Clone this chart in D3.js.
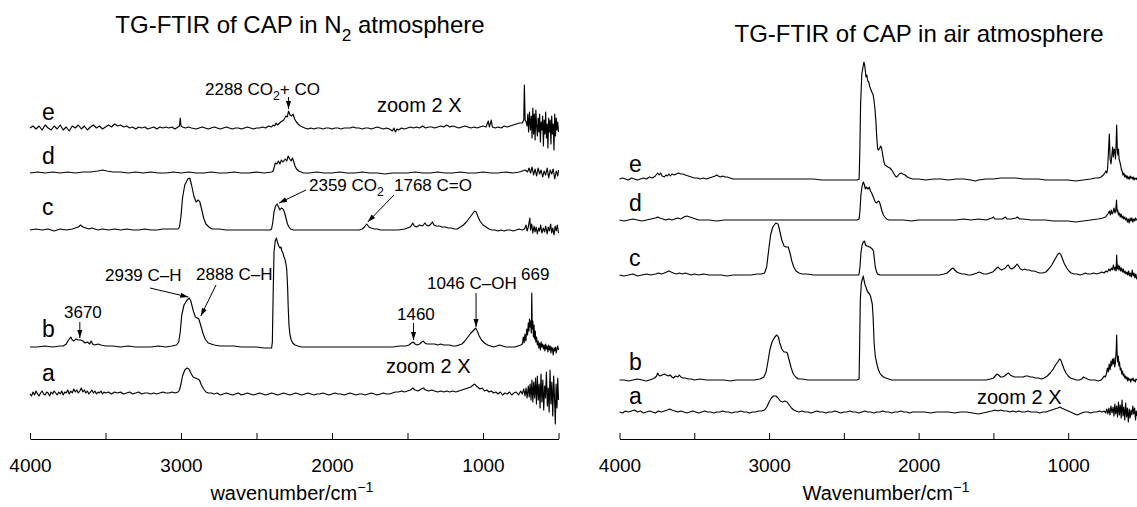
<!DOCTYPE html>
<html>
<head>
<meta charset="utf-8">
<script src="https://cdn.jsdelivr.net/npm/d3@7/dist/d3.min.js"></script>
<style>
  body { margin: 0; background: #fff; }
  svg { display: block; font-family: "Liberation Sans", Arial, Helvetica, sans-serif; }
  .trace { fill: none; stroke: #000; stroke-width: 1.15; stroke-linejoin: round; }
  .axis path, .axis line { stroke: #000; stroke-width: 1; }
  .axis text { fill: #000; }
</style>
</head>
<body>
<div id="chart"></div>
<script>
// ---- data: wavenumber (cm-1) vs absorbance (arbitrary units) ----
const traceLabels = ["a", "b", "c", "d", "e"];
const majorTicks = [4000, 3000, 2000, 1000];
const tickValues = [4000, 3500, 3000, 2500, 2000, 1500, 1000, 500];

// vertical stacking of the spectra (same units as absorbance)
const n2Offsets = [45, 92, 209, 266, 311];
const airOffsets = [27, 59, 164, 219, 260];

// N2 atmosphere
const n2_a = [[4000,0],[3990,-2],[3980,2],[3970,-1],[3960,3],[3950,0],[3940,-2],[3930,1],[3920,3],[3910,0],[3900,-1],[3890,2],[3880,1],[3870,-2],[3860,2],[3850,0],[3840,3],[3830,1],[3820,-1],[3810,2],[3800,0],[3790,3],[3780,-1],[3770,2],[3760,1],[3750,4],[3740,0],[3730,3],[3720,1],[3710,5],[3700,2],[3690,4],[3680,1],[3670,3],[3660,6],[3650,2],[3640,4],[3630,1],[3620,3],[3610,0],[3600,2],[3590,4],[3580,1],[3570,3],[3560,0],[3550,2],[3540,1],[3530,3],[3520,0],[3510,2],[3500,1],[3480,2],[3460,0],[3440,2],[3420,1],[3400,2],[3380,0],[3360,1],[3340,2],[3320,0],[3300,1],[3280,2],[3260,0],[3240,1],[3220,1],[3200,0],[3180,1],[3160,0],[3140,1],[3120,2],[3100,1],[3080,1],[3060,2],[3040,1],[3020,2],[3010,4],[3000,10],[2990,18],[2975,24],[2960,26],[2948,25],[2935,21],[2920,17],[2905,16],[2890,15],[2878,14],[2865,9],[2850,5],[2835,2],[2820,1],[2800,1],[2780,0],[2760,1],[2740,-1],[2720,0],[2700,1],[2680,0],[2660,-1],[2640,0],[2620,1],[2600,-1],[2580,0],[2560,1],[2540,0],[2520,-1],[2500,0],[2480,1],[2460,0],[2440,-1],[2420,0],[2400,1],[2380,0],[2360,-1],[2340,0],[2320,1],[2300,0],[2280,-1],[2260,0],[2240,1],[2220,0],[2200,-1],[2180,0],[2160,1],[2140,0],[2120,-1],[2100,0],[2080,0],[2060,1],[2040,0],[2020,-1],[2000,0],[1980,1],[1960,0],[1940,0],[1920,-1],[1900,0],[1880,1],[1860,0],[1840,-1],[1820,0],[1800,0],[1780,-1],[1760,0],[1740,1],[1720,0],[1700,-1],[1680,0],[1660,1],[1640,0],[1620,0],[1600,1],[1580,2],[1560,2],[1540,3],[1520,2],[1500,3],[1480,4],[1465,6],[1450,4],[1430,3],[1410,5],[1395,6],[1380,4],[1360,3],[1340,4],[1320,3],[1300,2],[1280,3],[1260,2],[1240,3],[1220,2],[1200,3],[1180,2],[1160,3],[1140,4],[1120,5],[1100,6],[1080,7],[1065,9],[1055,10],[1045,8],[1035,7],[1020,5],[1005,6],[990,3],[975,4],[960,2],[945,3],[930,1],[915,2],[900,0],[885,2],[870,-1],[855,1],[840,0],[825,2],[810,-1],[795,1],[780,2],[765,-1],[750,3],[740,0],[730,5],[722,-2],[715,6],[708,-4],[700,8],[694,-3],[688,10],[682,-6],[676,14],[670,-8],[664,12],[658,-4],[652,16],[646,-10],[640,18],[634,-6],[628,10],[622,-14],[616,20],[610,-8],[604,14],[598,-16],[592,8],[586,-4],[580,22],[574,-12],[568,6],[562,-18],[556,24],[550,-10],[544,12],[538,-22],[532,18],[526,-6],[521,-30],[516,10],[510,-14],[505,16],[500,-6]];
const n2_b = [[4000,0],[3950,0],[3900,1],[3850,0],[3800,1],[3780,1],[3760,3],[3745,7],[3730,10],[3720,7],[3710,6],[3695,8],[3680,7],[3665,7],[3650,6],[3635,4],[3620,5],[3605,3],[3595,6],[3585,3],[3570,2],[3550,3],[3530,2],[3500,1],[3450,1],[3400,0],[3350,1],[3300,0],[3250,0],[3200,0],[3150,1],[3100,0],[3060,1],[3030,2],[3015,5],[3005,15],[2995,32],[2980,42],[2960,47],[2945,49],[2935,46],[2920,37],[2905,30],[2893,29],[2882,28],[2870,22],[2855,14],[2840,8],[2820,4],[2800,3],[2780,2],[2740,1],[2700,1],[2650,1],[2600,0],[2550,0],[2500,0],[2450,-1],[2400,-1],[2395,5],[2390,50],[2384,95],[2376,106],[2368,109],[2360,104],[2352,101],[2345,99],[2338,100],[2332,96],[2325,94],[2318,90],[2312,88],[2306,84],[2300,78],[2294,60],[2290,40],[2285,22],[2278,12],[2270,7],[2260,4],[2245,2],[2225,1],[2200,0],[2150,0],[2100,0],[2050,0],[2000,0],[1950,0],[1900,0],[1850,0],[1800,0],[1750,0],[1700,0],[1650,0],[1600,0],[1550,1],[1510,1],[1490,2],[1475,4],[1462,5],[1450,3],[1435,2],[1420,3],[1405,5],[1395,6],[1385,4],[1370,3],[1350,3],[1320,3],[1300,2],[1280,3],[1260,2],[1240,2],[1220,2],[1200,1],[1180,1],[1160,2],[1140,3],[1120,6],[1100,10],[1080,14],[1060,17],[1048,19],[1038,16],[1025,11],[1010,7],[990,4],[970,2],[950,1],[930,0],[910,1],[890,2],[870,1],[850,0],[830,0],[810,0],[790,0],[770,1],[750,2],[740,3],[733,10],[728,4],[722,13],[716,6],[710,18],[705,12],[700,24],[696,16],[692,28],[688,20],[684,26],[680,14],[677,54],[674,18],[670,26],[666,10],[662,22],[658,8],[654,16],[650,5],[645,10],[640,2],[635,6],[630,-1],[625,4],[620,-3],[615,5],[610,0],[605,3],[600,-2],[595,2],[590,-4],[585,3],[580,-2],[575,1],[570,-5],[565,2],[560,-3],[555,1],[550,-6],[545,0],[540,-2],[535,-8],[530,-1],[525,-4],[520,0],[515,-6],[510,-2],[505,1],[500,-3]];
const n2_c = [[4000,0],[3960,1],[3920,0],[3880,1],[3840,-1],[3800,1],[3760,0],[3720,1],[3700,2],[3680,3],[3665,5],[3650,3],[3630,2],[3610,1],[3590,2],[3570,1],[3550,0],[3520,1],[3480,0],[3440,1],[3400,0],[3360,1],[3320,0],[3280,0],[3240,1],[3200,0],[3160,0],[3120,1],[3080,1],[3040,1],[3020,1],[3010,3],[3000,14],[2990,32],[2975,45],[2955,51],[2942,52],[2930,45],[2915,34],[2900,28],[2885,30],[2875,28],[2862,20],[2850,12],[2835,6],[2815,3],[2795,1],[2750,1],[2700,0],[2650,0],[2600,0],[2550,0],[2500,0],[2450,0],[2410,0],[2400,1],[2392,8],[2384,18],[2374,24],[2364,26],[2354,23],[2345,20],[2335,22],[2325,21],[2315,18],[2305,12],[2295,6],[2285,3],[2275,1],[2255,0],[2200,0],[2150,0],[2100,0],[2050,0],[2000,0],[1950,0],[1900,0],[1850,0],[1820,0],[1800,1],[1785,3],[1770,6],[1755,3],[1740,2],[1720,1],[1700,1],[1680,0],[1650,0],[1600,0],[1560,0],[1520,1],[1500,2],[1480,3],[1465,7],[1455,4],[1440,3],[1420,5],[1400,4],[1385,7],[1375,5],[1360,4],[1345,6],[1335,8],[1325,5],[1310,4],[1290,4],[1270,3],[1250,3],[1230,2],[1210,2],[1190,1],[1170,1],[1150,3],[1130,5],[1110,8],[1090,12],[1070,16],[1055,19],[1045,18],[1035,14],[1020,9],[1000,5],[980,3],[960,1],[940,0],[920,0],[900,-1],[880,0],[860,-1],[840,0],[820,0],[800,-1],[780,0],[760,1],[740,0],[725,1],[715,5],[708,-1],[700,3],[690,12],[685,0],[678,6],[670,-3],[662,4],[655,-2],[648,3],[640,-4],[632,2],[625,-1],[618,5],[610,-3],[600,2],[592,-2],[585,4],[575,-4],[568,3],[560,-1],[552,6],[545,-3],[538,2],[530,-5],[522,4],[515,-1],[508,5],[500,-3]];
const n2_d = [[4000,0],[3950,1],[3900,0],[3850,1],[3800,0],[3750,1],[3700,0],[3650,1],[3600,1],[3550,2],[3520,3],[3490,2],[3450,1],[3400,1],[3350,0],[3300,1],[3250,0],[3200,1],[3150,0],[3100,0],[3050,1],[3000,0],[2950,1],[2900,0],[2850,0],[2800,1],[2750,0],[2700,0],[2650,1],[2600,0],[2550,0],[2500,1],[2450,0],[2400,1],[2390,2],[2375,10],[2365,9],[2355,12],[2345,9],[2335,13],[2325,11],[2310,14],[2300,12],[2290,17],[2280,14],[2270,12],[2262,15],[2255,12],[2245,7],[2235,4],[2220,2],[2205,1],[2190,0],[2150,0],[2100,1],[2050,0],[2000,0],[1950,1],[1900,0],[1850,0],[1800,1],[1750,0],[1700,0],[1650,-1],[1600,0],[1550,0],[1500,0],[1450,1],[1400,0],[1350,0],[1300,1],[1250,0],[1200,0],[1150,1],[1100,0],[1050,0],[1000,1],[950,0],[900,0],[850,1],[800,0],[760,1],[740,2],[720,3],[705,1],[695,5],[685,0],[675,6],[665,-2],[655,4],[645,-3],[635,5],[625,-1],[615,3],[605,-4],[595,2],[585,-2],[575,5],[565,-5],[555,3],[545,-1],[535,4],[525,-6],[515,2],[505,-3],[500,3]];
const n2_e = [[4000,0],[3980,2],[3960,-1],[3940,2],[3920,-2],[3900,3],[3880,0],[3860,-2],[3840,2],[3820,-1],[3800,3],[3780,-2],[3760,1],[3740,-3],[3720,2],[3700,0],[3680,3],[3660,-1],[3640,2],[3620,-2],[3600,1],[3580,3],[3560,0],[3540,2],[3520,-1],[3500,1],[3480,3],[3460,1],[3440,4],[3420,2],[3400,3],[3380,1],[3360,2],[3340,0],[3320,1],[3300,-1],[3280,1],[3260,0],[3240,1],[3220,-1],[3200,0],[3180,1],[3160,-1],[3140,1],[3120,0],[3100,1],[3080,0],[3060,1],[3040,-1],[3020,1],[3010,2],[3005,10],[3000,2],[2990,1],[2970,0],[2950,1],[2930,0],[2900,-1],[2880,0],[2860,1],[2840,0],[2820,-1],[2800,0],[2780,1],[2760,0],[2740,-1],[2720,0],[2700,1],[2680,0],[2660,-1],[2640,0],[2620,0],[2600,-1],[2580,0],[2560,1],[2540,0],[2520,-1],[2500,0],[2480,0],[2460,1],[2440,0],[2420,2],[2400,1],[2390,3],[2380,2],[2370,5],[2360,3],[2340,6],[2320,8],[2305,12],[2296,11],[2288,17],[2278,13],[2268,12],[2258,14],[2248,9],[2236,6],[2224,4],[2210,2],[2195,1],[2180,0],[2160,-1],[2140,0],[2120,-1],[2100,0],[2080,0],[2060,-1],[2040,0],[2020,0],[2000,-1],[1980,0],[1960,0],[1940,-1],[1920,0],[1900,0],[1880,0],[1860,1],[1840,0],[1820,0],[1800,-1],[1780,0],[1760,0],[1740,-1],[1720,0],[1700,1],[1680,0],[1660,-1],[1640,0],[1620,-1],[1600,-3],[1590,0],[1580,-4],[1570,-1],[1560,-2],[1540,0],[1520,-1],[1500,0],[1480,1],[1460,0],[1440,1],[1420,0],[1400,2],[1380,0],[1360,1],[1340,1],[1320,0],[1300,1],[1280,2],[1260,1],[1240,3],[1220,1],[1200,2],[1180,1],[1160,0],[1140,1],[1120,2],[1100,1],[1080,0],[1060,1],[1040,0],[1020,1],[1000,2],[980,1],[965,7],[958,1],[945,8],[938,1],[920,0],[900,1],[880,0],[860,2],[840,1],[820,2],[800,3],[780,4],[760,5],[740,5],[730,8],[726,43],[721,8],[714,6],[708,2],[703,14],[698,-4],[692,16],[686,-2],[680,12],[675,-10],[670,20],[665,-6],[660,14],[655,-12],[650,18],[645,2],[640,-8],[635,10],[630,-4],[625,14],[620,-14],[615,6],[610,-2],[605,12],[600,-18],[595,8],[590,-6],[585,16],[580,-10],[575,4],[570,-20],[565,10],[560,-4],[555,8],[550,-16],[545,12],[540,-6],[535,4],[530,-22],[525,14],[520,-8],[515,10],[510,-2],[505,6],[500,-4]];

// air atmosphere
const air_a = [[4000,0],[3980,-1],[3960,1],[3940,0],[3920,1],[3900,2],[3880,0],[3860,1],[3840,-1],[3820,0],[3800,1],[3780,0],[3760,-1],[3740,1],[3720,0],[3700,1],[3680,2],[3665,3],[3650,2],[3630,1],[3610,0],[3590,1],[3570,0],[3550,-1],[3530,0],[3510,1],[3490,0],[3470,-1],[3450,0],[3430,1],[3410,0],[3390,0],[3370,-1],[3350,0],[3330,0],[3310,1],[3290,0],[3270,0],[3250,-1],[3230,0],[3210,0],[3190,1],[3170,0],[3150,0],[3130,-1],[3110,0],[3090,0],[3070,1],[3050,1],[3030,2],[3015,5],[3000,10],[2985,14],[2970,16],[2955,16],[2940,14],[2925,11],[2910,10],[2895,11],[2880,10],[2865,7],[2850,4],[2835,2],[2820,1],[2800,0],[2780,1],[2760,0],[2740,0],[2720,-1],[2700,0],[2680,1],[2660,0],[2640,0],[2620,-1],[2600,0],[2580,0],[2560,1],[2540,0],[2520,-1],[2500,0],[2480,0],[2460,1],[2440,0],[2420,0],[2400,-1],[2380,0],[2360,1],[2340,0],[2320,0],[2300,-1],[2280,0],[2260,0],[2240,1],[2220,0],[2200,0],[2180,-1],[2160,0],[2140,0],[2120,1],[2100,0],[2080,0],[2060,-1],[2040,0],[2020,0],[2000,0],[1960,0],[1920,-1],[1880,0],[1840,0],[1800,0],[1760,-1],[1720,0],[1680,0],[1640,-1],[1600,-2],[1570,-1],[1540,0],[1510,1],[1490,2],[1470,1],[1450,2],[1430,1],[1410,1],[1390,0],[1370,1],[1350,0],[1330,1],[1310,0],[1290,0],[1270,1],[1250,0],[1230,0],[1210,0],[1190,-1],[1170,0],[1150,0],[1130,1],[1110,2],[1090,3],[1070,4],[1055,5],[1045,4],[1030,3],[1015,2],[1000,1],[985,0],[970,-1],[955,-2],[940,-3],[925,-2],[910,-1],[890,0],[870,0],[850,-1],[830,0],[810,0],[790,1],[775,0],[760,1],[750,-1],[742,3],[735,-2],[728,4],[721,-3],[714,6],[707,-1],[700,5],[694,-4],[688,8],[682,-2],[676,6],[670,-5],[664,10],[658,-3],[652,7],[646,-6],[640,12],[634,-4],[628,5],[622,-8],[616,9],[610,-5],[604,4],[598,-10],[592,3],[586,-6],[580,2],[574,-3],[568,6],[562,-2],[556,4],[550,-8],[545,1],[540,-4]];
const air_b = [[4000,0],[3970,0],[3940,-1],[3910,0],[3880,1],[3850,0],[3820,-1],[3800,0],[3780,1],[3765,2],[3752,4],[3745,7],[3738,5],[3728,4],[3715,5],[3700,6],[3688,5],[3675,4],[3662,5],[3650,3],[3640,2],[3625,4],[3610,3],[3600,5],[3590,3],[3575,2],[3560,2],[3540,1],[3520,1],[3500,0],[3460,1],[3420,0],[3380,0],[3340,0],[3300,0],[3260,-1],[3220,0],[3180,0],[3140,0],[3100,0],[3060,1],[3035,3],[3020,8],[3008,18],[2995,30],[2980,38],[2962,43],[2948,45],[2938,43],[2928,37],[2915,31],[2900,28],[2888,28],[2878,27],[2866,20],[2852,12],[2838,6],[2822,3],[2805,1],[2780,1],[2740,0],[2700,0],[2650,0],[2600,0],[2550,0],[2500,0],[2450,0],[2410,0],[2398,1],[2394,40],[2390,80],[2383,97],[2376,101],[2370,104],[2364,99],[2358,95],[2352,93],[2346,90],[2340,88],[2334,87],[2328,86],[2322,84],[2316,80],[2310,76],[2304,62],[2298,38],[2290,24],[2282,18],[2276,14],[2268,10],[2260,7],[2250,5],[2235,3],[2220,2],[2200,1],[2180,0],[2150,0],[2100,0],[2050,0],[2000,0],[1950,0],[1900,0],[1850,0],[1800,0],[1750,0],[1700,0],[1650,0],[1600,0],[1550,0],[1520,1],[1500,2],[1488,4],[1476,6],[1465,5],[1452,3],[1440,3],[1425,4],[1410,6],[1398,7],[1388,5],[1375,4],[1360,3],[1340,3],[1320,3],[1300,3],[1285,4],[1270,4],[1255,3],[1240,3],[1220,2],[1200,2],[1180,1],[1160,2],[1140,4],[1120,7],[1100,11],[1085,15],[1070,18],[1058,21],[1050,20],[1040,16],[1028,11],[1015,7],[1000,4],[985,2],[965,1],[945,0],[925,0],[910,1],[898,3],[886,2],[872,1],[855,0],[840,0],[820,0],[800,-1],[780,0],[768,2],[760,4],[752,3],[745,6],[738,12],[732,8],[726,16],[720,10],[714,19],[709,14],[704,21],[699,16],[694,22],[689,13],[684,18],[679,30],[676,45],[673,26],[669,18],[665,24],[661,14],[657,18],[652,10],[647,12],[642,6],[637,9],[632,4],[627,6],[622,2],[617,4],[612,1],[607,3],[602,-1],[597,2],[592,0],[587,1],[582,-2],[577,1],[572,0],[567,2],[562,-1],[557,0],[552,-2],[547,1],[540,0]];
const air_c = [[4000,0],[3970,-1],[3940,0],[3910,1],[3880,-1],[3850,0],[3820,1],[3790,0],[3760,1],[3740,2],[3720,1],[3700,2],[3685,3],[3670,4],[3655,3],[3640,2],[3620,1],[3600,2],[3580,1],[3560,2],[3540,1],[3520,0],[3500,1],[3470,0],[3440,1],[3400,0],[3360,0],[3320,0],[3280,-1],[3240,0],[3200,0],[3160,0],[3120,0],[3080,1],[3050,1],[3030,2],[3016,8],[3005,22],[2990,40],[2975,48],[2955,52],[2940,51],[2930,45],[2915,35],[2900,29],[2885,28],[2872,28],[2860,22],[2848,14],[2835,8],[2820,4],[2800,2],[2780,1],[2750,1],[2700,0],[2650,0],[2600,0],[2550,0],[2500,0],[2450,0],[2400,0],[2392,8],[2386,22],[2378,30],[2370,33],[2362,34],[2355,30],[2348,29],[2340,29],[2332,28],[2325,28],[2318,27],[2310,26],[2302,24],[2296,16],[2290,8],[2283,4],[2275,1],[2260,0],[2200,0],[2150,0],[2100,0],[2050,0],[2000,0],[1950,0],[1900,0],[1860,0],[1830,1],[1810,2],[1795,4],[1782,6],[1770,7],[1758,5],[1745,3],[1730,2],[1710,1],[1690,1],[1670,0],[1650,0],[1630,1],[1610,2],[1595,3],[1580,2],[1565,1],[1545,1],[1525,2],[1505,3],[1490,5],[1478,7],[1468,8],[1458,6],[1445,5],[1432,6],[1420,7],[1410,9],[1400,10],[1390,7],[1378,6],[1365,7],[1352,9],[1342,11],[1332,9],[1320,6],[1305,5],[1290,6],[1275,5],[1260,5],[1245,4],[1230,4],[1210,3],[1190,2],[1170,2],[1150,3],[1130,6],[1110,10],[1095,14],[1080,18],[1068,21],[1058,22],[1048,20],[1038,16],[1025,11],[1010,7],[995,4],[980,2],[960,1],[940,1],[920,0],[900,1],[885,2],[870,1],[850,1],[830,2],[810,1],[790,2],[775,3],[760,2],[748,4],[738,3],[728,6],[720,4],[712,7],[705,5],[698,10],[692,5],[686,8],[680,4],[676,20],[672,6],[667,10],[662,5],[656,9],[650,4],[644,7],[638,3],[632,6],[626,2],[620,4],[614,1],[608,3],[602,0],[596,4],[590,-1],[584,2],[578,-2],[572,5],[566,-1],[560,2],[554,-3],[548,1],[542,-4],[540,-2]];
const air_d = [[4000,0],[3970,-1],[3940,0],[3910,1],[3880,0],[3850,-1],[3820,0],[3790,1],[3760,2],[3745,3],[3730,2],[3710,1],[3690,0],[3670,1],[3650,0],[3630,1],[3610,2],[3590,1],[3570,3],[3550,4],[3530,3],[3510,2],[3490,1],[3470,0],[3440,0],[3400,0],[3350,-1],[3300,0],[3250,0],[3200,0],[3150,0],[3100,0],[3050,0],[3000,0],[2950,0],[2900,0],[2850,0],[2800,0],[2750,0],[2700,0],[2650,0],[2600,0],[2550,0],[2500,0],[2450,0],[2410,0],[2398,1],[2392,10],[2386,25],[2378,34],[2370,38],[2362,35],[2356,31],[2350,33],[2344,32],[2338,31],[2330,33],[2322,29],[2314,27],[2306,24],[2298,21],[2290,18],[2280,17],[2270,19],[2262,18],[2254,14],[2245,9],[2236,5],[2226,3],[2215,1],[2200,0],[2150,0],[2100,0],[2050,-1],[2000,0],[1950,0],[1900,0],[1850,0],[1800,0],[1750,0],[1700,1],[1650,0],[1600,1],[1550,0],[1510,2],[1500,3],[1490,1],[1470,1],[1440,1],[1420,3],[1410,1],[1380,1],[1350,2],[1340,3],[1325,1],[1300,1],[1250,0],[1200,0],[1150,0],[1100,-1],[1050,-1],[1000,-1],[950,-2],[900,-1],[850,0],[800,1],[770,2],[750,3],[735,6],[725,9],[718,5],[712,10],[706,6],[700,8],[694,12],[688,7],[682,10],[677,20],[673,8],[668,10],[664,5],[658,7],[652,3],[646,6],[640,2],[634,4],[628,1],[622,3],[616,0],[610,2],[604,-2],[598,1],[592,-3],[586,2],[580,-1],[574,2],[568,-2],[562,1],[556,-1],[550,2],[545,0],[540,1]];
const air_e = [[4000,0],[3980,1],[3960,0],[3940,-1],[3920,1],[3900,0],[3880,-1],[3860,0],[3840,1],[3820,0],[3800,2],[3780,1],[3760,3],[3745,6],[3735,4],[3725,6],[3715,3],[3700,2],[3690,4],[3680,3],[3670,5],[3660,3],[3650,5],[3635,4],[3620,5],[3605,6],[3590,5],[3575,5],[3560,4],[3540,3],[3520,2],[3500,1],[3480,1],[3460,0],[3440,1],[3420,0],[3400,1],[3380,2],[3360,3],[3350,4],[3340,3],[3325,2],[3310,3],[3295,2],[3280,2],[3260,1],[3240,0],[3200,0],[3150,0],[3100,0],[3050,0],[3000,0],[2950,0],[2900,0],[2850,0],[2800,0],[2750,0],[2700,0],[2650,-1],[2600,-1],[2550,-1],[2500,-1],[2450,-1],[2410,-1],[2398,0],[2393,30],[2388,75],[2380,105],[2372,112],[2366,117],[2360,113],[2352,102],[2346,104],[2340,98],[2334,97],[2326,92],[2318,89],[2310,86],[2304,84],[2298,78],[2292,70],[2286,58],[2280,42],[2274,30],[2268,29],[2260,31],[2254,33],[2248,31],[2240,24],[2232,17],[2225,14],[2215,13],[2205,12],[2192,11],[2180,9],[2168,6],[2156,3],[2148,2],[2140,3],[2130,5],[2118,6],[2105,5],[2090,4],[2075,2],[2060,1],[2040,0],[2000,0],[1950,-1],[1900,0],[1850,0],[1800,-1],[1750,0],[1700,0],[1650,-1],[1620,-2],[1600,-1],[1550,0],[1500,0],[1450,1],[1400,1],[1350,1],[1300,0],[1250,0],[1200,0],[1150,-1],[1100,-1],[1050,-1],[1000,-1],[950,-2],[900,-1],[850,0],[820,1],[800,1],[780,2],[765,4],[755,6],[748,8],[742,6],[737,10],[730,30],[725,45],[720,20],[714,15],[708,24],[703,32],[698,22],[692,30],[688,28],[684,20],[680,34],[676,54],[672,30],[668,24],[664,30],[660,20],[656,18],[650,14],[645,10],[640,8],[634,4],[628,6],[622,2],[616,4],[610,1],[605,3],[600,0],[595,2],[590,0],[585,3],[580,1],[575,2],[570,0],[565,2],[560,-1],[555,1],[550,0],[545,1],[540,-1]];

const n2Traces = [n2_a, n2_b, n2_c, n2_d, n2_e];
const airTraces = [air_a, air_b, air_c, air_d, air_e];

// ---- drawing ----
const W = 1137, H = 507;
const axisY = 439;
const font = 19;

const svg = d3.select("#chart").append("svg")
    .attr("width", W)
    .attr("height", H);

svg.append("defs").append("marker")
    .attr("id", "arrow")
    .attr("viewBox", "0 0 10 10")
    .attr("refX", 10).attr("refY", 5)
    .attr("markerWidth", 8).attr("markerHeight", 8)
    .attr("markerUnits", "userSpaceOnUse")
    .attr("orient", "auto")
    .append("path")
    .attr("d", "M0,1.8 L10,5 L0,8.2 z")
    .attr("fill", "#000");

// text with sub / superscripts: parts = [[text, "sub"|"sup"|undefined], ...]
function richText(g, x, y, parts, size, anchor)
{
    let t = g.append("text")
        .attr("x", x).attr("y", y)
        .attr("font-size", size)
        .attr("text-anchor", anchor || "start")
        .attr("fill", "#000");
    let shift = 0;
    parts.forEach(p => {
        let s = t.append("tspan").text(p[0]);
        let want = p[1] === "sub" ? size * 0.32 : p[1] === "sup" ? -size * 0.42 : 0;
        if (want !== shift) s.attr("dy", want - shift);
        if (p[1]) s.attr("font-size", size * 0.72);
        shift = want;
    });
    return t;
}

function arrow(g, x1, y1, x2, y2)
{
    g.append("line")
        .attr("x1", x1).attr("y1", y1)
        .attr("x2", x2).attr("y2", y2)
        .attr("stroke", "#000")
        .attr("stroke-width", 1)
        .attr("marker-end", "url(#arrow)");
}

function drawPanel(cfg)
{
    let g = svg.append("g");

    let x = d3.scaleLinear().domain([4000, 500]).range(cfg.xRange);
    let y = d3.scaleLinear().domain([0, 400]).range([axisY, axisY - 400]);

    let line = d3.line()
        .x(d => x(d[0]))
        .y(d => y(d[1] + d[2]));

    cfg.traces.forEach((tr, i) => {
        let off = cfg.offsets[i];
        g.append("path")
            .attr("class", "trace")
            .attr("d", line(tr.map(p => [p[0], p[1], off])));

        g.append("text")
            .attr("x", cfg.labelX)
            .attr("y", y(off) - cfg.labelGap[i])
            .attr("font-size", 23)
            .attr("fill", "#000")
            .text(traceLabels[i]);
    });

    let xAxis = d3.axisBottom(x)
        .tickValues(tickValues)
        .tickSizeInner(-6)
        .tickSizeOuter(0)
        .tickPadding(20)
        .tickFormat(d => majorTicks.includes(d) ? d : "");

    g.append("g")
        .attr("class", "axis")
        .attr("transform", `translate(0,${axisY})`)
        .call(xAxis)
        .call(a => a.selectAll("text").attr("font-size", font).attr("font-family", null));

    richText(g, cfg.xTitleX, 500, [[cfg.xTitle], ["\u22121", "sup"]], 20, "middle");
    richText(g, cfg.titleX, cfg.titleY, cfg.title, 24, "middle");

    return {g, x, y};
}

// left: N2
let left = drawPanel({
    xRange: [30, 558.5],
    traces: n2Traces,
    offsets: n2Offsets,
    labelX: 42,
    labelGap: [13, 10, 15, 9, 8],
    xTitle: "wavenumber/cm",
    xTitleX: 292,
    title: [["TG-FTIR of CAP in N"], ["2", "sub"], [" atmosphere"]],
    titleX: 300,
    titleY: 33
});

// right: air
let right = drawPanel({
    xRange: [619.5, 1143],
    traces: airTraces,
    offsets: airOffsets,
    labelX: 629,
    labelGap: [8, 10, 9, 9, 7],
    xTitle: "Wavenumber/cm",
    xTitleX: 886,
    title: [["TG-FTIR of CAP in air atmosphere"]],
    titleX: 919,
    titleY: 42
});

// annotations, left panel
{
    let g = left.g, x = left.x, y = left.y;
    let top = (arr, off, wn) => y(off + arr.find(p => p[0] === wn)[1]);

    richText(g, 205, 95, [["2288 CO"], ["2", "sub"], ["+ CO"]], 17);
    arrow(g, x(2288), 97, x(2288), top(n2_e, n2Offsets[4], 2288) - 2);

    richText(g, 377, 112, [["zoom 2 X"]], 20);

    richText(g, 309, 191, [["2359 CO"], ["2", "sub"]], 17);
    arrow(g, 306, 190, x(2364) + 2, top(n2_c, n2Offsets[2], 2364) - 1);

    richText(g, 394, 191, [["1768 C=O"]], 17);
    arrow(g, 394, 195, x(1770) + 1, top(n2_c, n2Offsets[2], 1770) - 2);

    richText(g, 105, 281, [["2939 C\u2013H"]], 17);
    arrow(g, 150, 288, x(2945) - 1, top(n2_b, n2Offsets[1], 2945) - 1);

    richText(g, 196, 280, [["2888 C\u2013H"]], 17);
    arrow(g, 216, 285, x(2882) + 2, top(n2_b, n2Offsets[1], 2882) - 3);

    richText(g, 64, 318, [["3670"]], 17);
    arrow(g, x(3670), 322, x(3670), top(n2_b, n2Offsets[1], 3665) - 2);

    richText(g, 397, 320, [["1460"]], 17);
    arrow(g, x(1460), 323, x(1460), top(n2_b, n2Offsets[1], 1462) - 2);

    richText(g, 427, 289, [["1046 C\u2013OH"]], 17);
    arrow(g, x(1046), 293, x(1046), top(n2_b, n2Offsets[1], 1048) - 1);

    richText(g, 521, 280, [["669"]], 17);

    richText(g, 386, 373, [["zoom 2 X"]], 20);
}

// annotation, right panel
richText(right.g, 977, 404, [["zoom 2 X"]], 20);
</script>
</body>
</html>
